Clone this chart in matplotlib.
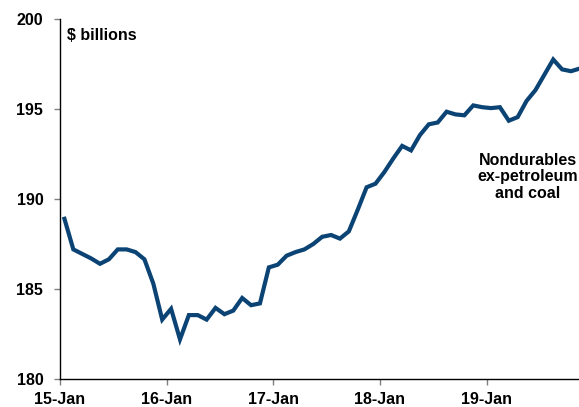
import numpy as np
import matplotlib.pyplot as plt

plt.rcParams['font.family'] = ['Liberation Sans', 'DejaVu Sans']

# monthly shipments, $ billions, Jan 2015 onward
values = [188.9, 187.2, 186.95, 186.7, 186.4, 186.65, 187.2, 187.2, 187.05, 186.65,
          185.3, 183.3, 183.9, 182.2, 183.55, 183.55, 183.3, 183.95, 183.6, 183.8,
          184.5, 184.1, 184.2, 186.2, 186.35, 186.85, 187.05, 187.2, 187.5, 187.9,
          188.0, 187.8, 188.2, 189.4, 190.65, 190.85, 191.5, 192.25, 192.95, 192.7,
          193.55, 194.15, 194.25, 194.85, 194.7, 194.65, 195.2, 195.1, 195.05, 195.1,
          194.35, 194.55, 195.45, 196.05, 196.9, 197.75, 197.2, 197.1, 197.25]
year_labels = ['15-Jan', '16-Jan', '17-Jan', '18-Jan', '19-Jan']
y_ticks = [180, 185, 190, 195, 200]

# points sit mid-month, year ticks on the month boundary
months = np.arange(len(values)) + 0.5

fig = plt.figure(figsize=(5.79, 4.07), dpi=100)
ax = fig.add_axes([60 / 579, 1 - 379 / 407, 1 - 60 / 579, 360 / 407])

ax.plot(months, values, color='#0b4474', lw=3.0, solid_joinstyle='miter')

ax.set_xlim(0, 58.4)
ax.set_ylim(180, 200)
ax.set_xticks([12 * i for i in range(len(year_labels))])
ax.set_xticklabels(year_labels)
ax.set_yticks(y_ticks)

for s in ['top', 'right']:
    ax.spines[s].set_visible(False)
for s in ['left', 'bottom']:
    ax.spines[s].set_linewidth(1.0)
    ax.spines[s].set_color('black')

ax.tick_params(axis='both', direction='out', length=4, width=1, color='#808080',
               labelsize=11.5)
ax.tick_params(axis='y', pad=8)
ax.tick_params(axis='x', pad=5)
for lab in ax.get_xticklabels() + ax.get_yticklabels():
    lab.set_fontweight('bold')

ax.text(0.0135, 0.955, '$ billions', transform=ax.transAxes,
        fontsize=11.5, fontweight='bold', va='center', ha='left')
fig.text(528 / 579, 1 - 177 / 407, 'Nondurables\nex-petroleum\nand coal',
         fontsize=11.5, fontweight='bold', ha='center', va='center', linespacing=1.1)

fig.savefig('out.png', dpi=100)
